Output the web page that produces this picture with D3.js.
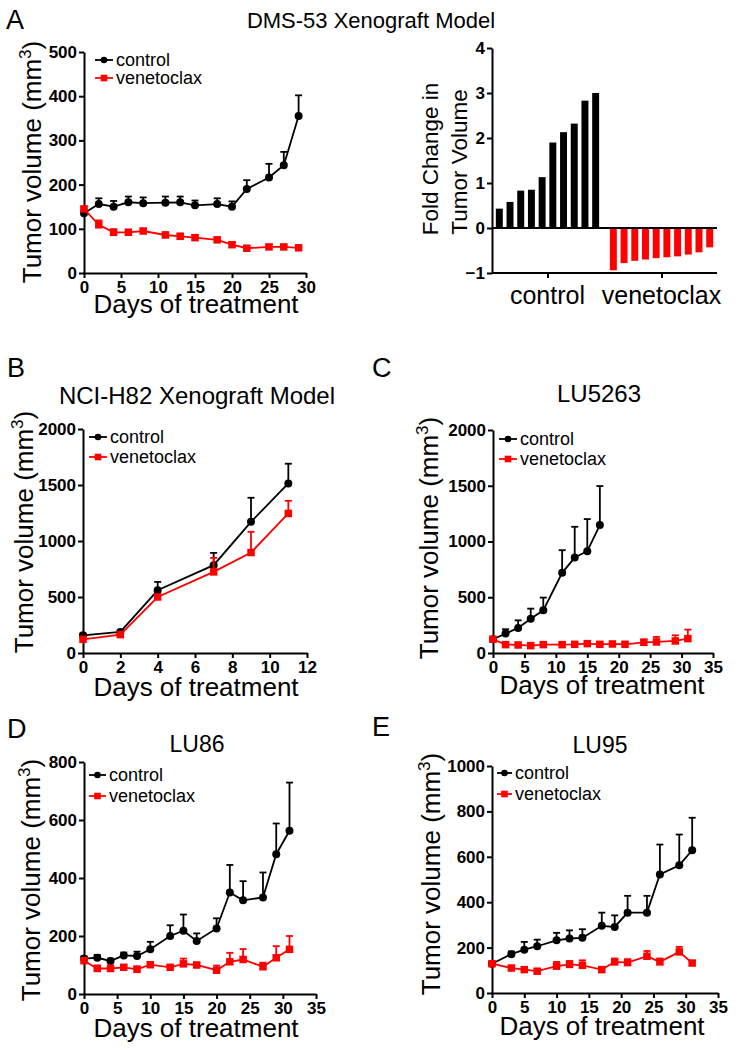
<!DOCTYPE html>
<html><head><meta charset="utf-8">
<script src="https://cdn.jsdelivr.net/npm/d3@7"></script>
<style>
body{margin:0;background:#fff}
text{font-family:"Liberation Sans",Arial,Helvetica,sans-serif}
</style>
</head><body>
<svg id="chart" width="745" height="1050"></svg>
<script>
// ---------------- DATA ----------------
// Panel A (DMS-53) tumor volume
const daysA = [0,2,4,6,8,11,13,15,18,20,22,25,27,29];
const volA_control = [135,156,150,160,158,159,160,153,156,150,190,216,244,355];
const errA_control = [8,13,13,13,13,14,13,11,13,12,20,31,30,47];
const volA_venetoclax = [145,109,92,92,95,86,83,80,75,64,56,59,59,57];
const errA_venetoclax = [5,10,7,6,5,6,6,5,5,5,4,4,4,4];
const xTicksA = [0,5,10,15,20,25,30];
const yTicksA = [0,100,200,300,400,500];

// Panel A waterfall (fold change)
const barGroups = ["control","venetoclax"];
const fold_control = [0.43,0.58,0.83,0.85,1.13,1.90,2.13,2.32,2.83,3.00];
const fold_venetoclax = [-0.94,-0.78,-0.73,-0.70,-0.67,-0.65,-0.63,-0.59,-0.54,-0.43];
const foldTicks = [-1,0,1,2,3,4];

// Panel B (NCI-H82)
const daysB = [0,2,4,7,9,11];
const volB_control = [158,188,560,784,1171,1514];
const errB_control = [15,15,75,110,215,176];
const volB_venetoclax = [122,164,500,724,897,1246];
const errB_venetoclax = [10,10,20,125,185,113];
const xTicksB = [0,2,4,6,8,10,12];
const yTicksB = [0,500,1000,1500,2000];

// Panel C (LU5263)
const daysC_control = [0,2,4,6,8,11,13,15,17];
const volC_control = [123,174,225,308,383,719,856,913,1147];
const errC_control = [15,39,68,90,114,203,276,288,350];
const daysC_venetoclax = [0,2,4,6,8,11,13,15,17,19,21,24,26,29,31];
const volC_venetoclax = [123,75,72,66,75,75,78,84,78,81,78,96,99,108,129];
const errC_venetoclax = [10,12,10,12,12,12,12,12,12,15,20,25,45,51,81];
const xTicksCDE = [0,5,10,15,20,25,30,35];
const yTicksC = [0,500,1000,1500,2000];

// Panel D (LU86)
const daysD = [0,2,4,6,8,10,13,15,17,20,22,24,27,29,31];
const volD_control = [122,125,114,133,131,154,200,218,183,226,350,323,333,482,563];
const errD_control = [8,10,8,10,15,26,37,56,26,35,95,66,86,106,166];
const volD_venetoclax = [115,88,88,92,85,101,92,104,100,82,111,119,94,125,154];
const errD_venetoclax = [5,10,10,8,10,8,8,18,8,16,31,36,14,40,46];
const yTicksD = [0,200,400,600,800];

// Panel E (LU95)
const daysE = [0,3,5,7,10,12,14,17,19,21,24,26,29,31];
const volE_control = [129,171,191,206,232,240,243,296,291,354,354,522,563,629];
const errE_control = [8,12,34,29,33,36,38,58,51,74,74,132,135,143];
const volE_venetoclax = [129,110,103,96,118,126,122,103,137,134,162,137,181,132];
const errE_venetoclax = [8,8,10,10,19,15,22,10,15,15,23,15,22,8];
const yTicksE = [0,200,400,600,800,1000];

const seriesNames = ["control","venetoclax"];
const RED = "#ff0000";

// ---------------- DRAWING ----------------
const svg = d3.select("#chart");
const fmt = d3.format("d");

function zip(days, vals, errs){ return days.map((d,i)=>({day:d, v:vals[i], e:errs[i]})); }

function styleAxis(sel){
  sel.selectAll("path.domain").attr("stroke","#000").attr("stroke-width",2);
  sel.selectAll(".tick line").attr("stroke","#000").attr("stroke-width",2);
  sel.selectAll(".tick text").attr("fill","#000").attr("font-size",17).attr("font-weight","bold")
     .attr("font-family",'"Liberation Sans",Arial,sans-serif');
}

function yTitle(g, x, yc){
  const t = g.append("text").attr("transform",`translate(${x},${yc}) rotate(-90)`)
    .attr("text-anchor","middle").attr("font-size",26).attr("fill","#000");
  t.append("tspan").text("Tumor volume (mm");
  t.append("tspan").attr("font-size",17).attr("dy",-10).text("3");
  t.append("tspan").attr("dy",10).text(")");
}

function drawLinePanel(c){
  const g = svg.append("g");
  const x = d3.scaleLinear().domain(c.xDomain).range([c.x0,c.x1]);
  const y = d3.scaleLinear().domain(c.yDomain).range([c.yBot,c.yTop]);
  const ax = g.append("g").attr("transform",`translate(0,${c.yBot})`)
    .call(d3.axisBottom(x).tickValues(c.xTicks).tickFormat(fmt).tickSize(5).tickSizeOuter(0).tickPadding(3));
  styleAxis(ax);
  const ay = g.append("g").attr("transform",`translate(${c.x0},0)`)
    .call(d3.axisLeft(y).tickValues(c.yTicks).tickFormat(fmt).tickSize(5).tickSizeOuter(0).tickPadding(2));
  styleAxis(ay);

  c.series.forEach(s=>{
    const data = zip(s.days, s.vals, s.errs);
    const sg = g.append("g");
    // error bars (upper only)
    sg.selectAll("line.eb").data(data).join("line")
      .attr("x1",d=>x(d.day)).attr("x2",d=>x(d.day))
      .attr("y1",d=>y(d.v)).attr("y2",d=>y(d.v+d.e))
      .attr("stroke",s.color).attr("stroke-width",1.8);
    sg.selectAll("line.cap").data(data).join("line")
      .attr("x1",d=>x(d.day)-3.5).attr("x2",d=>x(d.day)+3.5)
      .attr("y1",d=>y(d.v+d.e)).attr("y2",d=>y(d.v+d.e))
      .attr("stroke",s.color).attr("stroke-width",1.8);
    sg.append("path").datum(data)
      .attr("d",d3.line().x(d=>x(d.day)).y(d=>y(d.v)))
      .attr("fill","none").attr("stroke",s.color).attr("stroke-width",1.8);
    if(s.shape==="circle"){
      sg.selectAll("circle").data(data).join("circle")
        .attr("cx",d=>x(d.day)).attr("cy",d=>y(d.v)).attr("r",4).attr("fill",s.color);
    } else {
      sg.selectAll("rect").data(data).join("rect")
        .attr("x",d=>x(d.day)-3.75).attr("y",d=>y(d.v)-3.75)
        .attr("width",7.5).attr("height",7.5).attr("fill",s.color);
    }
  });

  // legend
  c.series.forEach((s,i)=>{
    const ly = c.legY[i];
    g.append("line").attr("x1",c.legX0).attr("x2",c.legX1).attr("y1",ly).attr("y2",ly)
      .attr("stroke",s.color).attr("stroke-width",1.8);
    const mx = (c.legX0+c.legX1)/2;
    if(s.shape==="circle") g.append("circle").attr("cx",mx).attr("cy",ly).attr("r",3.3).attr("fill",s.color);
    else g.append("rect").attr("x",mx-3.3).attr("y",ly-3.3).attr("width",6.6).attr("height",6.6).attr("fill",s.color);
    g.append("text").attr("x",c.legX1+3).attr("y",ly).attr("dy","0.35em")
      .attr("font-size",18).attr("fill","#000").text(seriesNames[i]);
  });

  // titles
  yTitle(g, c.yTitleX, c.yTitleY);
  g.append("text").attr("x",c.xTitleX).attr("y",c.xTitleY).attr("text-anchor","middle")
    .attr("font-size",26).attr("fill","#000").text("Days of treatment");
  if(c.title){
    g.append("text").attr("x",c.title.x).attr("y",c.title.y).attr("text-anchor","middle")
      .attr("font-size",c.title.size).attr("fill","#000").text(c.title.text);
  }
  g.append("text").attr("x",c.letter.x).attr("y",c.letter.y).attr("font-size",27)
    .attr("fill","#000").text(c.letter.t);
}

// Panel A line chart
drawLinePanel({
  x0:84, x1:306, yTop:52, yBot:273, xDomain:[0,30], yDomain:[0,500],
  xTicks:xTicksA, yTicks:yTicksA,
  series:[
    {days:daysA, vals:volA_control, errs:errA_control, color:"#000", shape:"circle"},
    {days:daysA, vals:volA_venetoclax, errs:errA_venetoclax, color:RED, shape:"square"}
  ],
  legX0:95, legX1:113, legY:[60,78],
  yTitleX:41, yTitleY:162, xTitleX:196, xTitleY:313,
  title:null, letter:{t:"A", x:6, y:29}
});
svg.append("text").attr("x",371).attr("y",28).attr("text-anchor","middle")
  .attr("font-size",22).attr("fill","#000").text("DMS-53 Xenograft Model");

// Panel A waterfall
(function(){
  const g = svg.append("g");
  const bx0 = 492, bx1 = 717;
  const y = d3.scaleLinear().domain([-1,4]).range([273,48]);
  const outer = d3.scaleBand().domain(barGroups).range([bx0,bx1]).paddingInner(0.053).paddingOuter(0.013);
  const inner = d3.scaleBand().domain(d3.range(10)).range([0,outer.bandwidth()]).paddingInner(0.35).paddingOuter(0.22);
  const groups = [{name:"control", vals:fold_control, color:"#000"},
                  {name:"venetoclax", vals:fold_venetoclax, color:RED}];
  groups.forEach(gr=>{
    g.selectAll(null).data(gr.vals).join("rect")
      .attr("x",(d,i)=>outer(gr.name)+inner(i))
      .attr("width",inner.bandwidth())
      .attr("y",d=>y(Math.max(0,d)))
      .attr("height",d=>Math.abs(y(d)-y(0)))
      .attr("fill",gr.color);
  });
  // zero line
  g.append("line").attr("x1",bx0).attr("x2",bx1).attr("y1",y(0)).attr("y2",y(0))
    .attr("stroke","#000").attr("stroke-width",2);
  // bottom axis at -1
  const xb = d3.axisBottom(d3.scalePoint().domain(barGroups).range([outer("control")+outer.bandwidth()/2, outer("venetoclax")+outer.bandwidth()/2]))
    .tickSize(5).tickFormat("");
  const axb = g.append("g").attr("transform",`translate(0,${y(-1)})`).call(xb);
  axb.select("path.domain").remove();
  styleAxis(axb);
  g.append("line").attr("x1",bx0).attr("x2",bx1).attr("y1",y(-1)).attr("y2",y(-1))
    .attr("stroke","#000").attr("stroke-width",2);
  barGroups.forEach(n=>{
    g.append("text").attr("x",outer(n)+outer.bandwidth()/2).attr("y",304).attr("text-anchor","middle")
      .attr("font-size",25).attr("fill","#000").text(n);
  });
  const ay = g.append("g").attr("transform",`translate(${bx0},0)`)
    .call(d3.axisLeft(y).tickValues(foldTicks).tickFormat(fmt).tickSize(5).tickSizeOuter(0).tickPadding(2));
  styleAxis(ay);
  g.append("text").attr("transform","translate(438,159) rotate(-90)").attr("text-anchor","middle")
    .attr("font-size",22.5).attr("fill","#000").text("Fold Change in");
  g.append("text").attr("transform","translate(467,162) rotate(-90)").attr("text-anchor","middle")
    .attr("font-size",22.5).attr("fill","#000").text("Tumor Volume");
})();

// Panel B
drawLinePanel({
  x0:83, x1:307, yTop:429, yBot:653, xDomain:[0,12], yDomain:[0,2000],
  xTicks:xTicksB, yTicks:yTicksB,
  series:[
    {days:daysB, vals:volB_control, errs:errB_control, color:"#000", shape:"circle"},
    {days:daysB, vals:volB_venetoclax, errs:errB_venetoclax, color:RED, shape:"square"}
  ],
  legX0:89, legX1:107, legY:[437,457],
  yTitleX:33, yTitleY:532, xTitleX:196, xTitleY:696,
  title:{text:"NCI-H82 Xenograft Model", x:197, y:404, size:24}, letter:{t:"B", x:7, y:377}
});

// Panel C
drawLinePanel({
  x0:493, x1:713, yTop:430, yBot:653, xDomain:[0,35], yDomain:[0,2000],
  xTicks:xTicksCDE, yTicks:yTicksC,
  series:[
    {days:daysC_control, vals:volC_control, errs:errC_control, color:"#000", shape:"circle"},
    {days:daysC_venetoclax, vals:volC_venetoclax, errs:errC_venetoclax, color:RED, shape:"square"}
  ],
  legX0:499, legX1:517, legY:[439,459],
  yTitleX:438, yTitleY:538, xTitleX:602, xTitleY:694,
  title:{text:"LU5263", x:599, y:402, size:24}, letter:{t:"C", x:372, y:377}
});

// Panel D
drawLinePanel({
  x0:84, x1:316, yTop:762, yBot:994, xDomain:[0,35], yDomain:[0,800],
  xTicks:xTicksCDE, yTicks:yTicksD,
  series:[
    {days:daysD, vals:volD_control, errs:errD_control, color:"#000", shape:"circle"},
    {days:daysD, vals:volD_venetoclax, errs:errD_venetoclax, color:RED, shape:"square"}
  ],
  legX0:89, legX1:106, legY:[775,796],
  yTitleX:40, yTitleY:880, xTitleX:196, xTitleY:1037,
  title:{text:"LU86", x:197, y:752, size:23}, letter:{t:"D", x:7, y:738}
});

// Panel E
drawLinePanel({
  x0:492, x1:718, yTop:766, yBot:993, xDomain:[0,35], yDomain:[0,1000],
  xTicks:xTicksCDE, yTicks:yTicksE,
  series:[
    {days:daysE, vals:volE_control, errs:errE_control, color:"#000", shape:"circle"},
    {days:daysE, vals:volE_venetoclax, errs:errE_venetoclax, color:RED, shape:"square"}
  ],
  legX0:497, legX1:512, legY:[773,794],
  yTitleX:440, yTitleY:874, xTitleX:602, xTitleY:1035,
  title:{text:"LU95", x:600, y:753, size:23}, letter:{t:"E", x:372, y:736}
});
</script>
</body></html>
